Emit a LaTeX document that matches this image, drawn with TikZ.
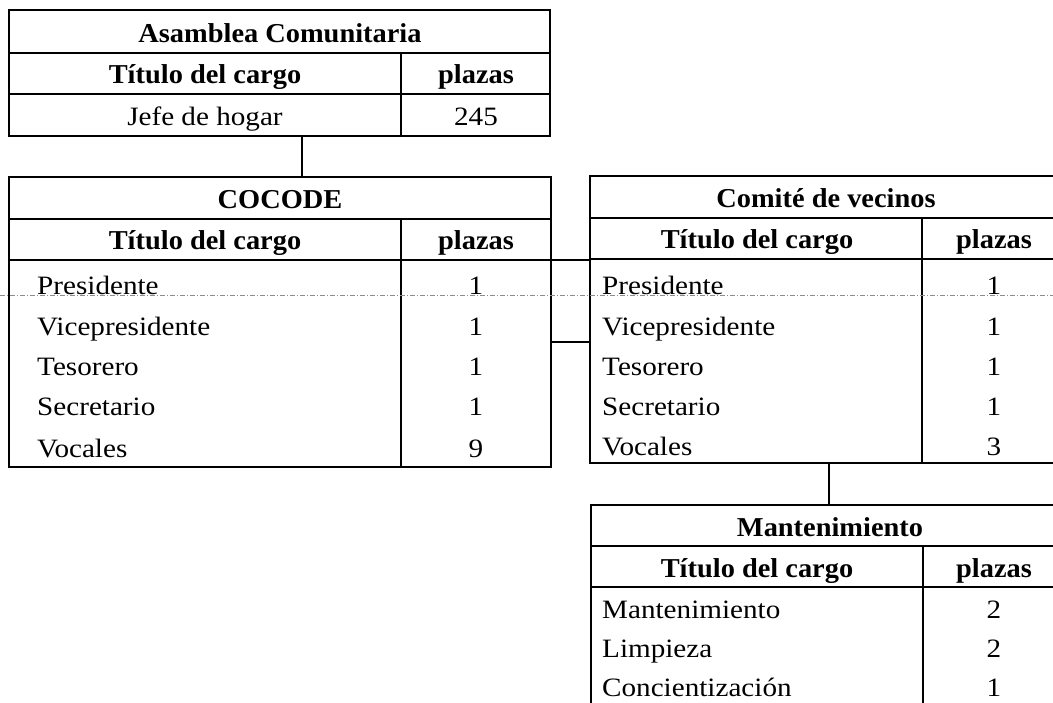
\documentclass[tikz,border=0pt]{standalone}
\usepackage{fontspec}
\setmainfont{Liberation Serif}
\newfontfamily\regf{Liberation Serif}[FakeStretch=1.1]
\newfontfamily\boldf{Liberation Serif}[FakeStretch=1.04]
\begin{document}
\begin{tikzpicture}[x=1pt,y=-1pt]
\tikzset{
  tline/.style={line width=1.8pt, draw=black},
  tbl/.style={draw=black, line width=1.8pt, anchor=north west, inner sep=0pt, outer sep=0pt},
  ttl/.style={font=\boldf\bfseries\fontsize{27.3}{30}\selectfont, anchor=base, inner sep=0pt},
  cellc/.style={font=\regf\fontsize{26.5}{30}\selectfont, anchor=base, inner sep=0pt},
  celll/.style={cellc, anchor=base west},
  scanline/.style={draw=black!45, line width=0.8pt, dash pattern=on 5pt off 2pt on 1pt off 2pt}
}
\useasboundingbox (0,0) rectangle (1053,703);
\clip (0,0) rectangle (1053,703);

% ---------- Asamblea Comunitaria ----------
\node[tbl, minimum width=541pt, minimum height=126pt] (asam) at (9,10) {};
\draw[tline] (9,53) -- (550,53);
\draw[tline] (9,94) -- (550,94);
\draw[tline] (401,53) -- (401,136);
\node[ttl] (asamT) at (280,43) {Asamblea Comunitaria};
\node[ttl] (asamH1) at (205,84) {Título del cargo};
\node[ttl] (asamH2) at (476,84) {plazas};
\node[cellc] (asamR1) at (205,126) {Jefe de hogar};
\node[cellc] (asamN1) at (476,126) {245};

% ---------- COCODE ----------
\node[tbl, minimum width=542pt, minimum height=290pt] (cocode) at (9,177) {};
\draw[tline] (9,219) -- (551,219);
\draw[tline] (9,260) -- (551,260);
\draw[tline] (401,219) -- (401,467);
\node[ttl] (cocT) at (280,209) {COCODE};
\node[ttl] (cocH1) at (205,250) {Título del cargo};
\node[ttl] (cocH2) at (476,250) {plazas};
\node[celll] (cocR1) at (37,295) {Presidente};
\node[celll] (cocR2) at (37,336) {Vicepresidente};
\node[celll] (cocR3) at (37,376) {Tesorero};
\node[celll] (cocR4) at (37,416) {Secretario};
\node[celll] (cocR5) at (37,457) {Vocales};
\node[cellc] (cocN1) at (476,295) {1};
\node[cellc] (cocN2) at (476,336) {1};
\node[cellc] (cocN3) at (476,376) {1};
\node[cellc] (cocN4) at (476,416) {1};
\node[cellc] (cocN5) at (476,457) {9};

% ---------- Comité de vecinos ----------
\node[tbl, minimum width=476pt, minimum height=287pt] (comite) at (590,176) {};
\draw[tline] (590,218) -- (1066,218);
\draw[tline] (590,259) -- (1066,259);
\draw[tline] (922,218) -- (922,463);
\node[ttl] (comT) at (826,208) {Comité de vecinos};
\node[ttl] (comH1) at (757,249) {Título del cargo};
\node[ttl] (comH2) at (994,249) {plazas};
\node[celll] (comR1) at (602,295) {Presidente};
\node[celll] (comR2) at (602,336) {Vicepresidente};
\node[celll] (comR3) at (602,376) {Tesorero};
\node[celll] (comR4) at (602,416) {Secretario};
\node[celll] (comR5) at (602,456) {Vocales};
\node[cellc] (comN1) at (994,295) {1};
\node[cellc] (comN2) at (994,336) {1};
\node[cellc] (comN3) at (994,376) {1};
\node[cellc] (comN4) at (994,416) {1};
\node[cellc] (comN5) at (994,456) {3};

% ---------- Mantenimiento ----------
\node[tbl, minimum width=475pt, minimum height=220pt] (mant) at (591,505) {};
\draw[tline] (591,546) -- (1066,546);
\draw[tline] (591,587) -- (1066,587);
\draw[tline] (923,546) -- (923,725);
\node[ttl] (manT) at (830,536) {Mantenimiento};
\node[ttl] (manH1) at (757,577) {Título del cargo};
\node[ttl] (manH2) at (994,577) {plazas};
\node[celll] (manR1) at (602,618) {Mantenimiento};
\node[celll] (manR2) at (602,657) {Limpieza};
\node[celll] (manR3) at (602,696) {Concientización};
\node[cellc] (manN1) at (994,618) {2};
\node[cellc] (manN2) at (994,657) {2};
\node[cellc] (manN3) at (994,696) {1};

% ---------- connectors ----------
\coordinate (k1) at (302,0);
\coordinate (hy1) at (0,260);
\coordinate (hy2) at (0,342);
\coordinate (k2) at (829,0);
\draw[tline] (asam.south -| k1) -- (cocode.north -| k1);
\draw[tline] (cocode.east |- hy1) -- (comite.west |- hy1);
\draw[tline] (cocode.east |- hy2) -- (comite.west |- hy2);
\draw[tline] (comite.south -| k2) -- (mant.north -| k2);

% ---------- scan line ----------
\draw[scanline] (0,295) -- (1053,295);
\end{tikzpicture}
\end{document}
